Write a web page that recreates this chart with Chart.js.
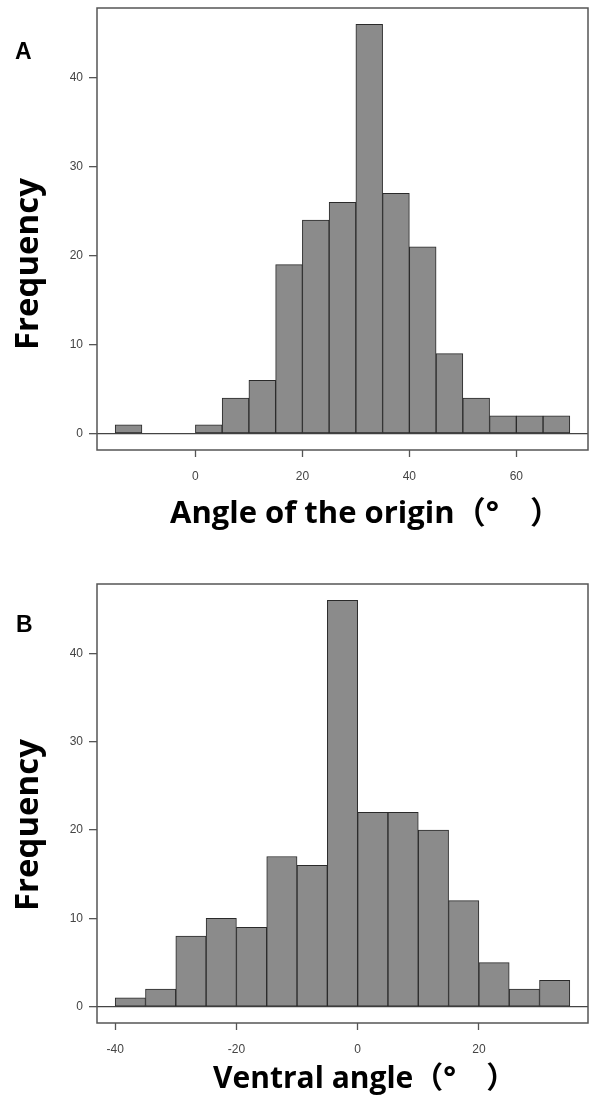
<!DOCTYPE html>
<html><head><meta charset="utf-8">
<script src="https://cdn.jsdelivr.net/npm/chart.js@4"></script>
<style>
html,body{margin:0;padding:0;background:#fff;width:590px;height:1101px;overflow:hidden}
canvas{position:absolute;left:0}
#cA{top:0}
#cB{top:545px}
</style></head><body>
<canvas id="cA" width="590" height="540"></canvas>
<canvas id="cB" width="590" height="556"></canvas>
<script>
// ---- data ----
const edgesA = [-15,-10,-5,0,5,10,15,20,25,30,35,40,45,50,55,60,65,70];
const countsA = [1,0,0,1,4,6,19,24,26,46,27,21,9,4,2,2,2];
const xTicksA = [0,20,40,60];
const yTicksA = [0,10,20,30,40];

const edgesB = [-40,-35,-30,-25,-20,-15,-10,-5,0,5,10,15,20,25,30,35];
const countsB = [1,2,8,10,9,17,16,46,22,22,20,12,5,2,3];
const xTicksB = [-40,-20,0,20];
const yTicksB = [0,10,20,30,40];

const xTitleA = 'Angle of the origin（°　）';
const xTitleB = 'Ventral angle（°　）';
const yTitle = 'Frequency';
const panelA = 'A';
const panelB = 'B';

const TITLE_FONT = '"Open Sans", "Noto Sans CJK JP", sans-serif';
const TICK_FONT = '"Liberation Sans", Arial, sans-serif';

const framePlugin = {
  id: 'frame',
  afterDraw(chart) {
    const {ctx, chartArea: a} = chart;
    ctx.save();
    ctx.strokeStyle = '#555';
    ctx.lineWidth = 1.5;
    ctx.strokeRect(a.left, a.top, a.right - a.left, a.bottom - a.top);
    ctx.restore();
  }
};
// panel letter and x-axis caption
const labelsPlugin = {
  id: 'panelLabels',
  afterDraw(chart, args, opts) {
    const ctx = chart.ctx;
    ctx.save();
    ctx.fillStyle = '#000';
    ctx.textBaseline = 'alphabetic';
    ctx.textAlign = 'left';
    ctx.font = 'bold 23px ' + TICK_FONT;
    ctx.fillText(opts.letter, opts.letterX, opts.letterY);
    ctx.font = 'bold ' + opts.capSize + 'px ' + TITLE_FONT;
    ctx.fillText(opts.caption, opts.capX, opts.capY);
    ctx.restore();
  }
};

function histogram(canvasId, edges, counts, xTicks, yTicks, xTitle, letter, lay) {
  const span = edges[edges.length - 1] - edges[0];
  const ymax = Math.max(...counts);
  const pts = counts.map((c, i) => ({x: (edges[i] + edges[i + 1]) / 2, y: c}));
  return new Chart(document.getElementById(canvasId), {
    type: 'bar',
    data: {
      datasets: [{
        data: pts,
        backgroundColor: '#8b8b8b',
        borderColor: '#2a2a2a',
        borderWidth: 1,
        borderSkipped: false,
        barPercentage: 1,
        categoryPercentage: 1
      }]
    },
    options: {
      responsive: false,
      animation: false,
      devicePixelRatio: 1,
      layout: {padding: {top: lay.padTop, right: 2, bottom: lay.padBottom, left: 0}},
      plugins: {
        legend: {display: false},
        tooltip: {enabled: false},
        title: {
          display: true, position: 'left', text: yTitle, color: '#000',
          font: {family: TITLE_FONT, size: 33, weight: 'bold', lineHeight: 1.2},
          padding: {top: 9, bottom: 0}
        },
        panelLabels: {letter: letter, letterX: lay.letterX, letterY: lay.letterY,
                      caption: xTitle, capX: lay.capX, capY: lay.capY, capSize: lay.capSize}
      },
      scales: {
        x: {
          type: 'linear',
          min: edges[0] - 0.04 * span,
          max: edges[edges.length - 1] + 0.04 * span,
          offset: false,
          afterBuildTicks: s => { s.ticks = xTicks.map(v => ({value: v})); },
          afterFit: s => { s.height = lay.xH; s.paddingLeft = 0; s.paddingRight = 0; },
          grid: {drawOnChartArea: false, offset: false, tickLength: 7, tickColor: '#555', tickWidth: 1.3},
          border: {display: false},
          ticks: {
            font: {family: TICK_FONT, size: 12}, color: '#444', padding: 12,
            maxRotation: 0, autoSkip: false,
            callback: v => String(v)
          }
        },
        y: {
          type: 'linear',
          min: -0.04 * ymax,
          max: ymax * 1.04,
          afterBuildTicks: s => { s.ticks = yTicks.map(v => ({value: v})); },
          afterFit: s => { s.width = lay.yW; s.paddingTop = 0; s.paddingBottom = 0; },
          grid: {
            color: c => (c.tick && c.tick.value === 0) ? '#444' : 'rgba(0,0,0,0)',
            lineWidth: 1.3, tickLength: 8, tickColor: '#555', tickWidth: 1.3
          },
          border: {display: false},
          ticks: {font: {family: TICK_FONT, size: 12}, color: '#444', padding: 6, callback: v => String(v)}
        }
      }
    },
    plugins: [framePlugin, labelsPlugin]
  });
}

histogram('cA', edgesA, countsA, xTicksA, yTicksA, xTitleA, panelA,
  {padTop: 8, padBottom: 20, xH: 70, yW: 48.4, letterX: 15, letterY: 59, capX: 170, capY: 523, capSize: 31});
histogram('cB', edgesB, countsB, xTicksB, yTicksB, xTitleB, panelB,
  {padTop: 39, padBottom: 35, xH: 43, yW: 48.4, letterX: 16, letterY: 87, capX: 213, capY: 543, capSize: 30});
</script>
</body></html>
